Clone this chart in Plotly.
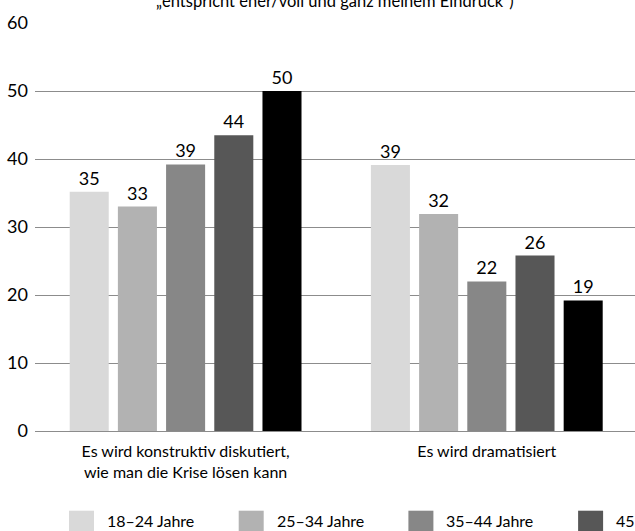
import plotly.graph_objects as go

# ---- data ----
categories = ["Es wird konstruktiv diskutiert,<br>wie man die Krise lösen kann", "Es wird dramatisiert"]
age_groups = ["18–24 Jahre", "25–34 Jahre", "35–44 Jahre", "45–59 Jahre", "60 Jahre und älter"]
values_18_24 = [35.2, 39.1]
values_25_34 = [33.0, 31.9]
values_35_44 = [39.2, 22.0]
values_45_59 = [43.5, 25.8]
values_60plus = [50.0, 19.2]
series_values = [values_18_24, values_25_34, values_35_44, values_45_59, values_60plus]
colors = ["#d9d9d9", "#b2b2b2", "#878787", "#575757", "#000000"]
y_ticks = [0, 10, 20, 30, 40, 50, 60]
subtitle = "„entspricht eher/voll und ganz meinem Eindruck“)"

FONT = "Lato, 'Open Sans', sans-serif"

fig = go.Figure()
for name, vals, col in zip(age_groups, series_values, colors):
    fig.add_trace(go.Bar(
        x=categories, y=vals, name=name,
        marker=dict(color=col, line=dict(width=0)),
        texttemplate="%{y:.0f}", textposition="outside",
        textfont=dict(size=18, color="#000000", family=FONT),
        cliponaxis=False, showlegend=False,
    ))

# manual legend (the reference legend runs past the right edge)
plot_l, plot_w = 35, 600
leg_x0_px, leg_step_px, sw_w_px, txt_off_px = 69, 169.7, 25, 36
plot_b, plot_h = 431, 408
sw_top_px, sw_bot_px, txt_mid_px = 510.7, 535.7, 520.5
def px2x(px):
    return (px - plot_l) / plot_w
def px2y(py):
    return (plot_b - py) / plot_h

shapes = []
annotations = []
for i, (name, col) in enumerate(zip(age_groups, colors)):
    xs = leg_x0_px + i * leg_step_px
    shapes.append(dict(type="rect", xref="paper", yref="paper",
                       x0=px2x(xs), x1=px2x(xs + sw_w_px),
                       y0=px2y(sw_bot_px), y1=px2y(sw_top_px),
                       fillcolor=col, line=dict(width=0)))
    annotations.append(dict(text=name, xref="paper", yref="paper",
                            x=px2x(xs + txt_off_px), y=px2y(txt_mid_px),
                            xanchor="left", yanchor="middle", showarrow=False,
                            font=dict(size=16, color="#000000", family=FONT)))

annotations.append(dict(text=subtitle, xref="paper", yref="paper", x=0.5, y=1,
                        xanchor="center", yanchor="bottom", yshift=10, showarrow=False,
                        font=dict(size=16.5, color="#000000", family=FONT)))

fig.update_layout(
    width=635, height=531,
    margin=dict(l=plot_l, r=0, t=23, b=100, pad=0),
    paper_bgcolor="white", plot_bgcolor="white",
    barmode="group", bargap=0.2, bargroupgap=0.19,
    font=dict(family=FONT, color="#000000"),
    shapes=shapes, annotations=annotations,
    xaxis=dict(type="category", range=[-0.5, 1.492], showgrid=False, showline=False,
               zeroline=False, ticks="", ticklabelstandoff=9,
               tickfont=dict(size=16, color="#000000")),
    yaxis=dict(range=[0, 60], tickvals=y_ticks, showgrid=True, gridcolor="#8c8c8c",
               gridwidth=1, zeroline=True, zerolinecolor="#8c8c8c", zerolinewidth=1,
               showline=False, ticks="", ticklabelstandoff=6,
               tickfont=dict(size=18, color="#000000")),
)

fig.write_html("out.html")
